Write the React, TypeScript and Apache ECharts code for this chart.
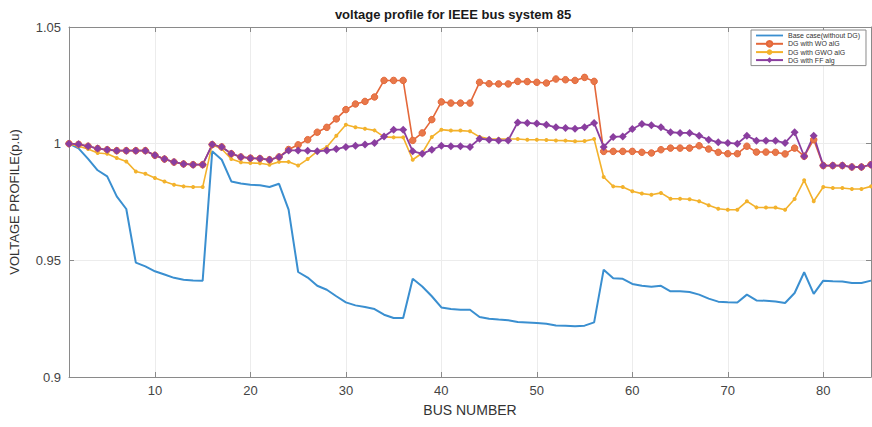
import React, { useEffect, useRef } from "react";
import * as echarts from "echarts";

const busNumbers = [
  1, 2, 3, 4, 5, 6, 7, 8, 9, 10, 11, 12, 13, 14, 15, 16, 17, 18, 19, 20,
  21, 22, 23, 24, 25, 26, 27, 28, 29, 30, 31, 32, 33, 34, 35, 36, 37, 38, 39, 40,
  41, 42, 43, 44, 45, 46, 47, 48, 49, 50, 51, 52, 53, 54, 55, 56, 57, 58, 59, 60,
  61, 62, 63, 64, 65, 66, 67, 68, 69, 70, 71, 72, 73, 74, 75, 76, 77, 78, 79, 80,
  81, 82, 83, 84, 85,
];

const baseCase = [
  1.0, 0.998, 0.9935, 0.9886, 0.986, 0.9774, 0.972, 0.949, 0.9474, 0.9453,
  0.9439, 0.9425, 0.9417, 0.9414, 0.9413, 0.9967, 0.9931, 0.9838, 0.9829, 0.9824,
  0.9822, 0.9814, 0.9828, 0.9717, 0.945, 0.9426, 0.9391, 0.9374, 0.9346, 0.932,
  0.9307, 0.93, 0.9291, 0.9267, 0.9253, 0.9253, 0.9421, 0.9388, 0.9346, 0.9298,
  0.9291, 0.9288, 0.9288, 0.9257, 0.925, 0.9246, 0.9243, 0.9236, 0.9234, 0.9231,
  0.9228, 0.9221, 0.922, 0.9217, 0.922, 0.9234, 0.946, 0.9423, 0.9421, 0.9399,
  0.9391, 0.9387, 0.9391, 0.9367, 0.9367, 0.9364, 0.9353, 0.9336, 0.9323, 0.932,
  0.9319, 0.9353, 0.9328, 0.9327, 0.9324, 0.9317, 0.936, 0.9449, 0.9356, 0.9413,
  0.941, 0.9409, 0.9403, 0.9403, 0.9413,
];

const dgWO = [
  1.0, 0.9997, 0.9989, 0.9979, 0.9974, 0.997, 0.997, 0.997, 0.997, 0.995,
  0.9934, 0.9921, 0.9913, 0.991, 0.991, 0.9996, 0.9986, 0.9957, 0.9943, 0.9938,
  0.9936, 0.9931, 0.9943, 0.9975, 0.9995, 1.0017, 1.0049, 1.007, 1.0106, 1.0146,
  1.017, 1.0181, 1.02, 1.0271, 1.0271, 1.0271, 1.0014, 1.0046, 1.0103, 1.0179,
  1.0174, 1.0174, 1.0174, 1.0263, 1.0257, 1.0256, 1.0256, 1.0267, 1.0266, 1.0263,
  1.026, 1.0277, 1.0274, 1.0271, 1.0284, 1.0267, 0.9967, 0.9967, 0.9967, 0.9967,
  0.9963, 0.996, 0.9974, 0.9981, 0.9981, 0.9981, 0.9991, 0.9977, 0.9963, 0.9957,
  0.9957, 0.9989, 0.9964, 0.9964, 0.9963, 0.9956, 0.9981, 0.9946, 1.0017, 0.9906,
  0.9906, 0.9906, 0.99, 0.99, 0.991,
];

const dgGWO = [
  1.0, 0.9989, 0.9977, 0.996, 0.9957, 0.9939, 0.9924, 0.9881, 0.9871, 0.9853,
  0.9838, 0.9824, 0.9817, 0.9814, 0.9814, 0.9996, 0.9977, 0.9934, 0.992, 0.9917,
  0.9916, 0.991, 0.9922, 0.9922, 0.9906, 0.9934, 0.9967, 0.9986, 1.0034, 1.0081,
  1.007, 1.0064, 1.0057, 1.0029, 1.0027, 1.0027, 0.9931, 0.996, 1.0029, 1.006,
  1.0056, 1.0056, 1.0053, 1.0029, 1.0021, 1.002, 1.002, 1.002, 1.0017, 1.0017,
  1.0016, 1.0014, 1.0013, 1.001, 1.0011, 1.002, 0.9857, 0.9817, 0.9814, 0.9796,
  0.9786, 0.9781, 0.9789, 0.9764, 0.9764, 0.9762, 0.9753, 0.9736, 0.9721, 0.9717,
  0.9717, 0.9753, 0.9727, 0.9726, 0.9726, 0.9717, 0.9763, 0.9843, 0.9753, 0.9814,
  0.981, 0.981, 0.9806, 0.9806, 0.9817,
];

const dgFF = [
  1.0, 0.9997, 0.9989, 0.9979, 0.9974, 0.997, 0.997, 0.997, 0.997, 0.995,
  0.9934, 0.9921, 0.9913, 0.991, 0.991, 0.9996, 0.9986, 0.9957, 0.9943, 0.9938,
  0.9936, 0.9931, 0.9943, 0.9971, 0.9971, 0.997, 0.9967, 0.9971, 0.9977, 0.9986,
  0.9991, 0.9996, 1.0003, 1.0031, 1.006, 1.006, 0.9967, 0.9957, 0.9974, 0.9991,
  0.9989, 0.9989, 0.9986, 1.0021, 1.0017, 1.0014, 1.0014, 1.0091, 1.0089, 1.0086,
  1.0081, 1.007, 1.0067, 1.0064, 1.007, 1.0089, 0.9986, 1.0029, 1.0031, 1.0063,
  1.0084, 1.0079, 1.007, 1.0049, 1.0046, 1.0046, 1.0034, 1.0017, 1.0006, 1.0003,
  1.0, 1.0034, 1.0013, 1.0013, 1.0012, 1.0003, 1.0049, 0.9946, 1.0034, 0.9906,
  0.9906, 0.9906, 0.99, 0.99, 0.991,
];

const xTickValues = [10, 20, 30, 40, 50, 60, 70, 80];
const seriesNames = [
  "Base case(without DG)",
  "DG with WO alG",
  "DG with GWO alG",
  "DG with FF alg",
];
const titleText = "voltage profile for IEEE bus system 85";

const FONT = "'Liberation Sans', Arial, sans-serif";
const AXIS_COLOR = "#8a8a8a";
const GRID_COLOR = "#ececec";

function pairs(values: number[]) {
  return busNumbers.map((b, i) => [b, values[i]]);
}

export default function App() {
  const ref = useRef<HTMLDivElement>(null);

  useEffect(() => {
    if (!ref.current) return;
    const chart = echarts.init(ref.current, null, { renderer: "svg" });

    const axisLine = { show: true, lineStyle: { color: AXIS_COLOR, width: 1 } };

    const option: any = {
      animation: false,
      backgroundColor: "#ffffff",
      textStyle: { fontFamily: FONT },
      title: {
        text: titleText,
        left: 448,
        textAlign: "center",
        top: 3,
        textStyle: { fontSize: 13, fontWeight: "bold", color: "#1a1a1a", fontFamily: FONT },
      },
      legend: {
        orient: "vertical",
        right: 6,
        top: 30,
        itemGap: 1,
        itemWidth: 27,
        itemHeight: 7,
        padding: [2, 6, 2, 4],
        borderColor: "#8a8a8a",
        borderWidth: 1,
        backgroundColor: "#ffffff",
        textStyle: { fontSize: 7, color: "#333", fontFamily: FONT },
        data: [
          { name: seriesNames[0], icon: "path://M0,0 L27,0 L27,1.8 L0,1.8 Z" },
          { name: seriesNames[1] },
          { name: seriesNames[2] },
          { name: seriesNames[3] },
        ],
      },
      grid: { left: 68, right: 1, top: 27, bottom: 50 },
      xAxis: [
        {
          type: "value",
          min: 1,
          max: 85,
          position: "bottom",
          name: "BUS NUMBER",
          nameLocation: "middle",
          nameGap: 26,
          nameTextStyle: { fontSize: 14, color: "#333", fontFamily: FONT },
          axisLine,
          axisTick: {
            show: true,
            inside: true,
            length: 5,
            customValues: xTickValues,
            lineStyle: { color: AXIS_COLOR },
          },
          axisLabel: {
            show: true,
            customValues: xTickValues,
            color: "#444",
            fontSize: 13,
            margin: 7,
            fontFamily: FONT,
          },
          splitLine: { show: true, lineStyle: { color: GRID_COLOR, width: 1 } },
        },
        {
          type: "value",
          min: 1,
          max: 85,
          position: "top",
          axisLine,
          axisTick: {
            show: true,
            inside: true,
            length: 5,
            customValues: xTickValues,
            lineStyle: { color: AXIS_COLOR },
          },
          axisLabel: { show: false },
          splitLine: { show: false },
        },
      ],
      yAxis: [
        {
          type: "value",
          min: 0.9,
          max: 1.05,
          interval: 0.05,
          position: "left",
          name: "VOLTAGE PROFILE(p.u)",
          nameLocation: "middle",
          nameGap: 48,
          nameTextStyle: { fontSize: 13, color: "#333", fontFamily: FONT },
          axisLine,
          axisTick: { show: true, inside: true, length: 5, lineStyle: { color: AXIS_COLOR } },
          axisLabel: { color: "#444", fontSize: 13, margin: 8, fontFamily: FONT },
          splitLine: { show: true, lineStyle: { color: GRID_COLOR, width: 1 } },
        },
        {
          type: "value",
          min: 0.9,
          max: 1.05,
          interval: 0.05,
          position: "right",
          axisLine,
          axisTick: { show: true, inside: true, length: 5, lineStyle: { color: AXIS_COLOR } },
          axisLabel: { show: false },
          splitLine: { show: false },
        },
      ],
      series: [
        {
          name: seriesNames[0],
          type: "line",
          xAxisIndex: 0,
          yAxisIndex: 0,
          data: pairs(baseCase),
          symbol: "none",
          lineStyle: { color: "#3a8fd0", width: 2 },
          itemStyle: { color: "#3a8fd0" },
        },
        {
          name: seriesNames[1],
          type: "line",
          xAxisIndex: 0,
          yAxisIndex: 0,
          data: pairs(dgWO),
          symbol: "circle",
          symbolSize: 6.5,
          showAllSymbol: true,
          lineStyle: { color: "#e4683a", width: 1.6 },
          itemStyle: { color: "#e8784a", borderColor: "#e4683a", borderWidth: 1 },
        },
        {
          name: seriesNames[2],
          type: "line",
          xAxisIndex: 0,
          yAxisIndex: 0,
          data: pairs(dgGWO),
          symbol: "circle",
          symbolSize: 4,
          showAllSymbol: true,
          lineStyle: { color: "#f3b22c", width: 1.6 },
          itemStyle: { color: "#f3b22c" },
        },
        {
          name: seriesNames[3],
          type: "line",
          xAxisIndex: 0,
          yAxisIndex: 0,
          data: pairs(dgFF),
          symbol: "diamond",
          symbolSize: 8,
          showAllSymbol: true,
          lineStyle: { color: "#8a3e9f", width: 1.8 },
          itemStyle: { color: "#8a3e9f" },
        },
      ],
    };

    chart.setOption(option);
    return () => chart.dispose();
  }, []);

  return (
    <div
      ref={ref}
      style={{ position: "fixed", left: 0, top: 0, width: 872, height: 427, background: "#fff" }}
    />
  );
}
